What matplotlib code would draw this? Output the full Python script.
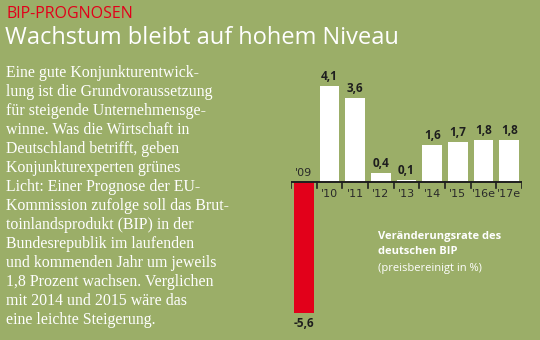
import matplotlib
matplotlib.use("Agg")
import matplotlib.pyplot as plt

YEARS = ["'09", "'10", "'11", "'12", "'13", "'14", "'15", "'16e", "'17e"]
GROWTH = [-5.6, 4.1, 3.6, 0.4, 0.1, 1.6, 1.7, 1.8, 1.8]

KICKER = "BIP-PROGNOSEN"
TITLE = "Wachstum bleibt auf hohem Niveau"
BODY = [
    "Eine gute Konjunkturentwick-",
    "lung ist die Grundvoraussetzung",
    "für steigende Unternehmensge-",
    "winne. Was die Wirtschaft in",
    "Deutschland betrifft, geben",
    "Konjunkturexperten grünes",
    "Licht: Einer Prognose der EU-",
    "Kommission zufolge soll das Brut-",
    "toinlandsprodukt (BIP) in der",
    "Bundesrepublik im laufenden",
    "und kommenden Jahr um jeweils",
    "1,8 Prozent wachsen. Verglichen",
    "mit 2014 und 2015 wäre das",
    "eine leichte Steigerung.",
]
NOTE_BOLD = ["Veränderungsrate des", "deutschen BIP"]
NOTE = "(preisbereinigt in %)"

BG = "#9bae68"
RED = "#e2001a"
DARK = "#1e1e1e"
W, H = 540, 340

fig = plt.figure(figsize=(W / 100, H / 100), dpi=100)
fig.patch.set_facecolor(BG)

# axes placed in pixel terms: x boundaries 291..522, zero line at y=182
ax = fig.add_axes([291 / W, 1 - 330 / H, (522 - 291) / W, (330 - 60) / H])
ax.set_facecolor("none")
ax.set_xlim(-0.5, len(YEARS) - 0.5)
px = 23.4
ax.set_ylim(-(330 - 182) / px, (182 - 60) / px)
for s in ax.spines.values():
    s.set_visible(False)
ax.set_xticks([])
ax.set_yticks([])

xs = list(range(len(YEARS)))
cols = [RED if v < 0 else "white" for v in GROWTH]
ax.bar(xs, GROWTH, width=0.76, color=cols, zorder=2)
ax.axhline(0, color=DARK, lw=1.4, zorder=3)
for b in [i - 0.5 for i in range(len(YEARS) + 1)]:
    ax.plot([b, b], [0, -0.26], color=DARK, lw=1.2, zorder=3)

for i, (lab, v) in enumerate(zip(YEARS, GROWTH)):
    txt = f"{v:.1f}".replace(".", ",")
    if v < 0:
        ax.text(i, v - 0.15, txt, ha="center", va="top", fontsize=8.5,
                fontweight="bold", color=DARK, family="Open Sans")
        ax.text(i, 0.15, lab, ha="center", va="bottom", fontsize=8,
                color="#2a2a2a", family="Liberation Sans Narrow")
    else:
        ax.text(i, v + 0.12, txt, ha="center", va="bottom", fontsize=8.5,
                fontweight="bold", color=DARK, family="Open Sans")
        ax.text(i, -0.3, lab, ha="center", va="top", fontsize=8,
                color="#2a2a2a", family="Liberation Sans Narrow")

fig.text(6 / W, 1 - 14 / H, KICKER, ha="left", va="center", fontsize=11.5,
         color=RED, family="Open Sans")
fig.text(5 / W, 1 - 38 / H, TITLE, ha="left", va="center", fontsize=17,
         color="white", family="Open Sans")

for k, line in enumerate(BODY):
    fig.text(6 / W, 1 - (73 + k * 19) / H, line, ha="left", va="center",
             fontsize=11.4, color="white", family="Liberation Serif")

for k, line in enumerate(NOTE_BOLD):
    fig.text(378 / W, 1 - (236 + k * 16) / H, line, ha="left", va="center",
             fontsize=8, fontweight="bold", color="white", family="Open Sans")
fig.text(378 / W, 1 - 268 / H, NOTE, ha="left", va="center", fontsize=8,
         color="white", family="Open Sans")

fig.savefig("out.png", dpi=100, facecolor=BG)
